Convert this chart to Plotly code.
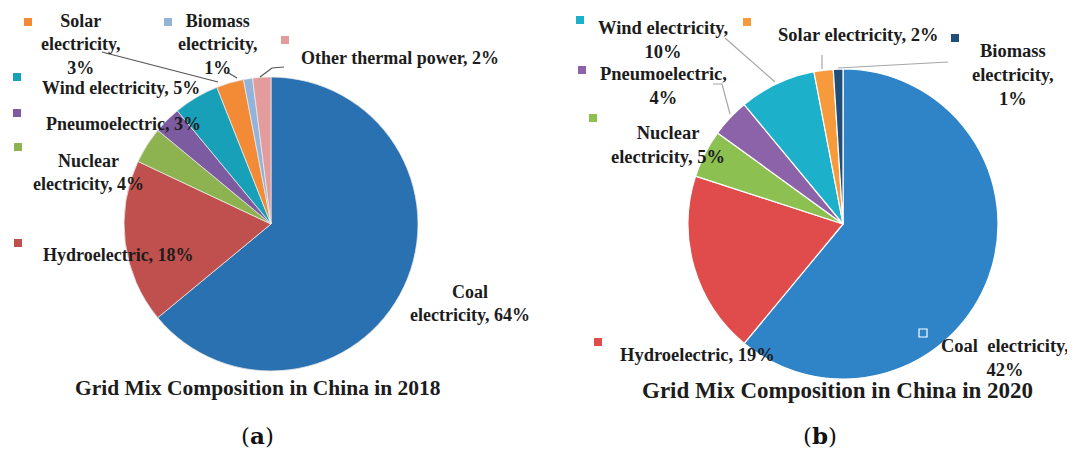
import plotly.graph_objects as go

W, H = 1075, 450
OFF = 8  # page body margin

# ---- data ----
cats_2018 = ["Coal electricity", "Hydroelectric", "Nuclear electricity", "Pneumoelectric",
             "Wind electricity", "Solar electricity", "Biomass electricity", "Other thermal power"]
vals_2018 = [64, 18, 4, 3, 5, 3, 1, 2]
cats_2020 = ["Coal electricity", "Hydroelectric", "Nuclear electricity", "Pneumoelectric",
             "Wind electricity", "Solar electricity", "Biomass electricity"]
vals_2020 = [61, 19, 5, 4, 8, 2, 1]          # slice sizes as drawn
labels_pct_2020 = [42, 19, 5, 4, 10, 2, 1]    # percentages as printed
titles = ["Grid Mix Composition in China in 2018", "Grid Mix Composition in China in 2020"]
panel_tags = ["a", "b"]

colors_2018 = ["#2A71B1", "#C0504D", "#8DB351", "#7D5BA0", "#18A0B8", "#F28A36", "#94B3D9", "#E39B9C"]
colors_2020 = ["#2E84C6", "#E04C4C", "#8CC152", "#8C62A9", "#1DB0CB", "#F79A3C", "#1F4E79"]


def px(x):
    return (x - OFF) / W


def py(y):
    return 1 - (y - OFF) / H


fig = go.Figure()
fig.add_trace(go.Pie(
    labels=cats_2018, values=vals_2018, sort=False, direction="clockwise", rotation=0,
    textinfo="none", hoverinfo="label+percent",
    marker=dict(colors=colors_2018, line=dict(color="#E8E8E8", width=0.8)),
    domain=dict(x=[px(124), px(418)], y=[py(371), py(77)]), showlegend=False))
fig.add_trace(go.Pie(
    labels=cats_2020, values=vals_2020, sort=False, direction="clockwise", rotation=0,
    textinfo="none", hoverinfo="label",
    marker=dict(colors=colors_2020, line=dict(color="#FFFFFF", width=1.2)),
    domain=dict(x=[px(688), px(998)], y=[py(379), py(69)]), showlegend=False))

F = "Liberation Serif"
TC = "#1c1c1c"
ann = []
shapes = []


def label(x, y, text, size=18):
    ann.append(dict(x=px(x), y=py(y), xref="paper", yref="paper", text=text, showarrow=False,
                    xanchor="center", yanchor="middle",
                    font=dict(family=F, size=size, color=TC)))


def key(x, y, color, s=8, outline=False):
    if outline:
        shapes.append(dict(type="rect", xref="paper", yref="paper",
                           x0=px(x - s / 2), x1=px(x + s / 2), y0=py(y + s / 2), y1=py(y - s / 2),
                           line=dict(color="#FFFFFF", width=1.2), fillcolor="rgba(0,0,0,0)"))
    else:
        shapes.append(dict(type="rect", xref="paper", yref="paper",
                           x0=px(x - s / 2), x1=px(x + s / 2), y0=py(y + s / 2), y1=py(y - s / 2),
                           line=dict(width=0), fillcolor=color))


def leader(pts, color):
    path = "M " + " L ".join(f"{px(a)},{py(b)}" for a, b in pts)
    shapes.append(dict(type="path", xref="paper", yref="paper", path=path,
                       line=dict(color=color, width=1.2)))


# ---- panel (a) labels ----
v = vals_2018
key(28, 22, colors_2018[5]); label(80, 45, f"<b>Solar<br>electricity,<br>{v[5]}%</b>")
key(168, 22, colors_2018[6]); label(217, 45, f"<b>Biomass<br>electricity,<br>{v[6]}%</b>")
key(285, 40, colors_2018[7]); label(400, 58, f"<b>Other thermal power, {v[7]}%</b>", 18)
key(17, 77, colors_2018[4]); label(121, 88, f"<b>Wind electricity, {v[4]}%</b>")
key(17, 113, colors_2018[3]); label(123, 124, f"<b>Pneumoelectric, {v[3]}%</b>")
key(18, 147, colors_2018[2]); label(88, 172, f"<b>Nuclear<br>electricity, {v[2]}%</b>")
key(18, 243, colors_2018[1]); label(118, 255, f"<b>Hydroelectric, {v[1]}%</b>")
label(470, 303, f"<b>Coal<br>electricity, {v[0]}%</b>")
leader([(102, 52), (218, 82)], "#555555")
leader([(227, 72), (237, 78)], "#555555")
leader([(260, 77), (272, 68), (284, 67)], "#555555")

# ---- panel (b) labels ----
p = labels_pct_2020
RS = 18.5
key(580, 20, colors_2020[4]); label(663, 40, f"<b>Wind electricity,<br>{p[4]}%</b>", RS)
key(747, 22, colors_2020[5]); label(858, 35, f"<b>Solar electricity, {p[5]}%</b>", RS)
key(955, 38, colors_2020[6]); label(1013, 75, f"<b>Biomass<br>electricity,<br>{p[6]}%</b>", RS)
key(582, 70, colors_2020[3]); label(663, 86, f"<b>Pneumoelectric,<br>{p[3]}%</b>", RS)
key(593, 118, colors_2020[2]); label(668, 145, f"<b>Nuclear<br>electricity, {p[2]}%</b>", RS)
key(598, 342, colors_2020[1]); label(697, 355, f"<b>Hydroelectric, {p[1]}%</b>", RS)
key(923, 333, colors_2020[0], outline=True)
label(1005, 358, f"<b>Coal\u00a0 electricity,<br>{p[0]}%</b>", RS)
leader([(725, 38), (775, 82)], "#A6A6A6")
leader([(822, 55), (822, 69)], "#A6A6A6")
leader([(948, 62), (838, 68)], "#A6A6A6")
leader([(713, 84), (722, 84), (730, 114)], "#A6A6A6")

# ---- titles and panel tags ----
label(258, 388, f"<b>{titles[0]}</b>", 21.5)
label(837, 390, f"<b>{titles[1]}</b>", 23)
for cx, tag in zip([257, 820], panel_tags):
    ann.append(dict(x=px(cx), y=py(435), xref="paper", yref="paper", text=f"(<b>{tag}</b>)",
                    showarrow=False, xanchor="center", yanchor="middle",
                    font=dict(family="DejaVu Serif", size=23, color="#111111")))

fig.update_layout(width=W, height=H, margin=dict(l=0, r=0, t=0, b=0),
                  paper_bgcolor="white", plot_bgcolor="white",
                  annotations=ann, shapes=shapes)
fig.write_html("out.html")
